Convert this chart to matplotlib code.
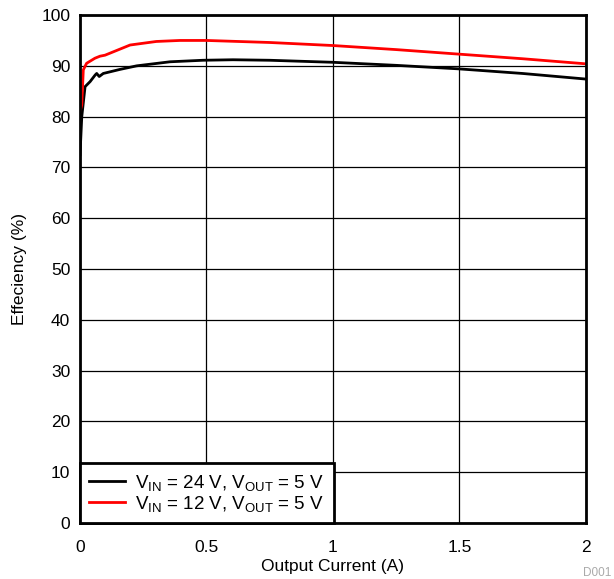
import matplotlib
matplotlib.use("Agg")
import matplotlib.pyplot as plt

# curvas de eficiência
corrente_24v = [0.0, 0.007, 0.02, 0.04, 0.06, 0.066, 0.076, 0.092, 0.158, 0.224, 0.356,
                0.486, 0.605, 0.75, 1.0, 1.25, 1.5, 1.75, 2.0]
efic_24v = [72.5, 80.0, 85.9, 86.9, 88.2, 88.5, 87.9, 88.5, 89.3, 90.0, 90.8,
            91.1, 91.2, 91.1, 90.7, 90.1, 89.4, 88.5, 87.4]

corrente_12v = [0.0, 0.007, 0.013, 0.026, 0.059, 0.079, 0.099, 0.198, 0.302, 0.395,
                0.5, 0.75, 1.0, 1.25, 1.5, 1.75, 2.0]
efic_12v = [81.0, 82.3, 89.2, 90.5, 91.5, 91.9, 92.1, 94.1, 94.8, 95.0,
            95.0, 94.6, 94.0, 93.2, 92.3, 91.4, 90.4]

xticks = [0, 0.5, 1, 1.5, 2]
xtick_labels = ["0", "0.5", "1", "1.5", "2"]
yticks = list(range(0, 101, 10))

plt.rcParams['font.family'] = ['Liberation Sans', 'DejaVu Sans']
plt.rcParams['mathtext.fontset'] = 'custom'
plt.rcParams['mathtext.rm'] = 'Liberation Sans'
plt.rcParams['mathtext.it'] = 'Liberation Sans'

fig = plt.figure(figsize=(6.14, 5.79), dpi=100)
ax = fig.add_axes([0.1303, 0.0967, 0.8237, 0.8773])

ax.plot(corrente_24v, efic_24v, color='black', lw=2,
        label=r'V$_{\mathrm{IN}}$ = 24 V, V$_{\mathrm{OUT}}$ = 5 V')
ax.plot(corrente_12v, efic_12v, color='#ff0000', lw=2,
        label=r'V$_{\mathrm{IN}}$ = 12 V, V$_{\mathrm{OUT}}$ = 5 V')

ax.set_xlim(0, 2)
ax.set_ylim(0, 100)
ax.set_xticks(xticks)
ax.set_xticklabels(xtick_labels)
ax.set_yticks(yticks)
ax.tick_params(length=0, labelsize=12.5)
ax.tick_params(axis='y', pad=7)
ax.tick_params(axis='x', pad=12)
ax.grid(True, color='black', lw=0.9)
for s in ax.spines.values():
    s.set_linewidth(2)

ax.set_xlabel("Output Current (A)", fontsize=12.5, labelpad=3)
ax.set_ylabel("Effeciency (%)", fontsize=12.5, labelpad=10)

leg = ax.legend(loc='lower left', fontsize=13.5, frameon=True, fancybox=False,
                borderaxespad=0, handlelength=1.9, borderpad=0.5, labelspacing=0.05,
                handletextpad=0.55)
leg.get_frame().set_edgecolor('black')
leg.get_frame().set_linewidth(2)
leg.get_frame().set_alpha(1)

fig.text(0.95, 0.0, "D001", color='#aaaaaa', fontsize=8.5, ha='left', va='bottom')

fig.savefig("out.png", dpi=100)
